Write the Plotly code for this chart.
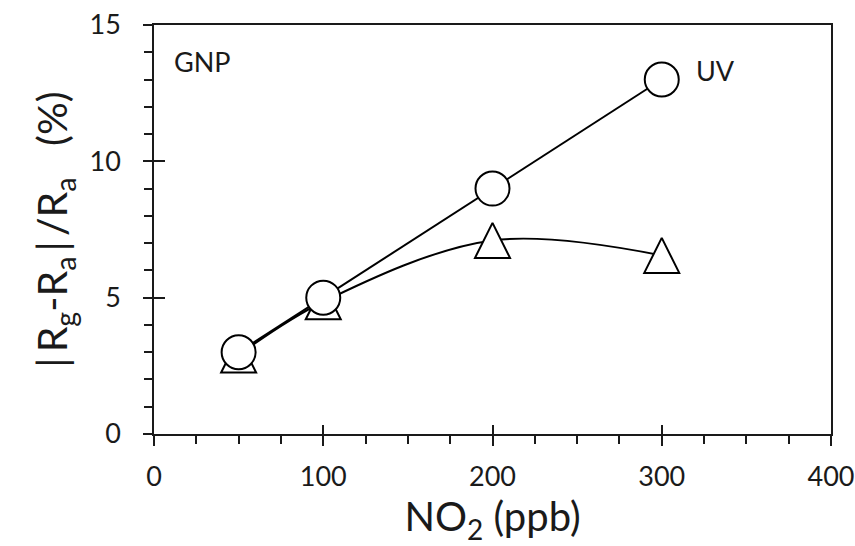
import plotly.graph_objects as go

# Data
no2_ppb = [50, 100, 200, 300]
uv_response = [3.0, 5.0, 9.0, 13.0]
dark_response = [2.9, 4.85, 7.1, 6.55]

x_ticks = [0, 100, 200, 300, 400]
y_ticks = [0, 5, 10, 15]

FONT = "Lato"
INK = "#1a1a1a"
TS = "\u2009"

fig = go.Figure()

# triangles (smooth curve)
fig.add_trace(go.Scatter(
    x=no2_ppb, y=dark_response, mode="lines+markers",
    line=dict(color="black", width=2, shape="spline", smoothing=1.0),
    marker=dict(symbol="arrow-down", angle=180, size=35, standoff=17.5, color="white",
                line=dict(color="black", width=2)),
    showlegend=False, cliponaxis=False,
))

# circles (UV)
fig.add_trace(go.Scatter(
    x=no2_ppb, y=uv_response, mode="lines+markers",
    line=dict(color="black", width=2),
    marker=dict(symbol="circle", size=34, color="white",
                line=dict(color="black", width=2)),
    showlegend=False, cliponaxis=False,
))

# dummy trace to activate overlay axes (inside tick halves)
fig.add_trace(go.Scatter(x=[None], y=[None], xaxis="x2", yaxis="y2",
                         showlegend=False, hoverinfo="skip"))

axis_common = dict(showgrid=False, zeroline=False, linecolor=INK, linewidth=1.5,
                   tickcolor=INK, tickwidth=1.5, showline=True, mirror=True,
                   automargin=False)

y_title = (f"|{TS}R<sub>g</sub>-R<sub>a</sub>{TS}|{TS}/R<sub>a</sub>   (%)")

fig.update_layout(
    width=855, height=546, autosize=False,
    margin=dict(l=154, r=24, t=25, b=112),
    paper_bgcolor="white", plot_bgcolor="white",
    font=dict(family=FONT, color=INK),
    xaxis=dict(range=[0, 400], tickvals=x_ticks, ticks="outside", ticklen=10,
               minor=dict(dtick=25, ticks="outside", ticklen=8, tickwidth=1.5, tickcolor=INK),
               tickfont=dict(size=27, family=FONT, color=INK), ticklabelstandoff=8,
               title=dict(text="NO<sub>2</sub> (ppb)", font=dict(size=40, family=FONT, color=INK),
                          standoff=6),
               **axis_common),
    yaxis=dict(range=[0, 15], tickvals=y_ticks, ticks="outside", ticklen=9,
               minor=dict(dtick=1, ticks="outside", ticklen=8, tickwidth=1.5, tickcolor=INK),
               tickfont=dict(size=27, family=FONT, color=INK), ticklabelstandoff=17,
               title=dict(text=y_title,
                          font=dict(size=41, family=FONT, color=INK), standoff=9),
               **axis_common),
    xaxis2=dict(range=[0, 400], overlaying="x", anchor="y", side="bottom",
                tickvals=x_ticks, ticks="inside", ticklen=9, tickwidth=1.5, tickcolor=INK,
                showticklabels=False, showline=False, showgrid=False, zeroline=False,
                automargin=False),
    yaxis2=dict(range=[0, 15], overlaying="y", anchor="x", side="left",
                tickvals=y_ticks, ticks="inside", ticklen=11, tickwidth=1.5, tickcolor=INK,
                showticklabels=False, showline=False, showgrid=False, zeroline=False,
                automargin=False),
    annotations=[
        dict(text="GNP", xref="paper", yref="paper", x=0.026, y=0.91,
             xanchor="left", yanchor="middle", showarrow=False,
             font=dict(size=27, family=FONT, color=INK)),
        dict(text="UV", xref="paper", yref="paper", x=0.797, y=0.888,
             xanchor="left", yanchor="middle", showarrow=False,
             font=dict(size=27, family=FONT, color=INK)),
    ],
)

fig.write_html("out.html", config={"displayModeBar": False},
               post_script="document.body.style.margin='0';")
